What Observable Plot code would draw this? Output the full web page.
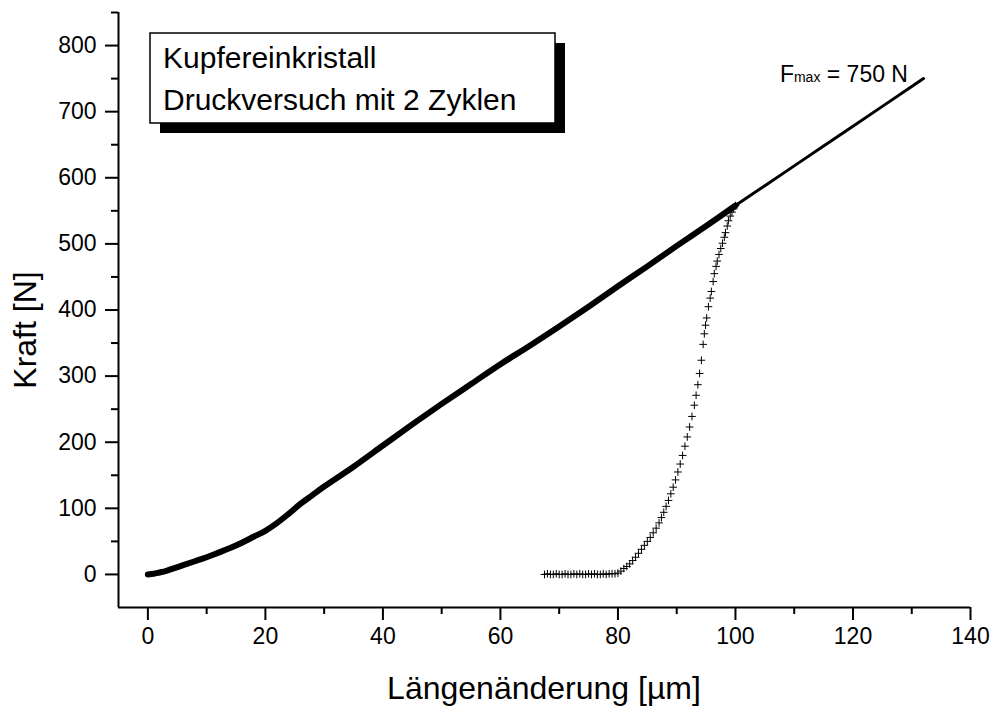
<!DOCTYPE html>
<html><head><meta charset="utf-8">
<script src="https://cdn.jsdelivr.net/npm/d3@7"></script>
<script src="https://cdn.jsdelivr.net/npm/@observablehq/plot@0.6"></script>
<style>
body{margin:0;background:#fff;}
#chart{width:995px;height:709px;}
</style>
</head><body><div id="chart"></div>
<script>
// First loading (both cycles overlapping), 0..100 µm
const loadX = [0,1,2,3,4,6,8,10,12,14,16,18,20,22,24,26,28,30,35,40,45,50,55,60,65,70,75,80,85,90,95,100];
const loadY = [0,1,3,5,8,14,20,26,33,40,48,57,66,78,92,107,120,133,163,195,227,258,288,318,346,375,405,436,466,497,527,558];
// Continued loading up to Fmax
const contX = [100,102,105,110,115,120,125,130,132];
const contY = [558,570,588,618,648,678,708,738,750];
// Unload / reload cycle (plus markers)
const cycX = [67.5,68,68.5,69,69.5,70,70.5,71,71.5,72,72.5,73,73.5,74,74.5,75,75.5,76,76.5,77,77.5,78,78.5,79,79.5,
  80,80.5,81,81.5,82,82.5,83,83.5,84,84.5,85,85.5,86,86.5,87,
  87.4,87.8,88.2,88.6,89,89.4,89.8,90.2,90.6,91,91.4,91.8,92.2,92.6,93,
  93.3,93.6,93.9,94.2,94.5,
  94.7,94.9,95.1,95.4,95.7,95.9,96.2,96.4,96.7,96.9,97.2,97.5,97.8,98.1,98.3,98.6,98.8,99.1,99.4,99.7,100];
const cycY = [0,1,0,0,1,0,0,1,0,0,1,0,1,0,0,1,0,1,0,0,1,0,1,1,1,
  2,5,9,12,16,21,26,32,38,44,50,56,63,70,78,
  86,94,103,112,122,132,143,155,167,180,194,208,223,239,256,
  271,287,304,324,348,
  364,377,388,405,418,428,443,455,466,474,484,493,501,510,517,527,535,542,548,553,558];
const xTicks = [0,20,40,60,80,100,120,140];
const xMinor = [10,30,50,70,90,110,130];
const yTicks = [0,100,200,300,400,500,600,700,800];
const yMinor = [50,150,250,350,450,550,650,750,850];
const xTitle = "Längenänderung [µm]";
const yTitle = "Kraft [N]";
const boxLines = ["Kupfereinkristall", "Druckversuch mit 2 Zyklen"];
const fmaxValue = 750;
const fmaxX = 132;

const toRows = (xs, ys) => xs.map((x, i) => ({x, y: ys[i]}));
const FONT = "'Liberation Sans', Arial, sans-serif";

const plot = Plot.plot({
  width: 995, height: 709,
  marginLeft: 118, marginRight: 25, marginTop: 12, marginBottom: 102,
  x: {domain: [-5, 140]},
  y: {domain: [-50, 850]},
  style: {fontFamily: FONT, color: "#000", background: "#fff", overflow: "visible"},
  marks: [
    Plot.axisX({ticks: xMinor, tickSize: 7, strokeWidth: 2, tickFormat: () => "", label: null}),
    Plot.axisX({ticks: xTicks, tickSize: 13, strokeWidth: 2, fontSize: 23, tickPadding: 7, label: null}),
    Plot.axisY({ticks: yMinor, tickSize: 7, strokeWidth: 2, tickFormat: () => "", label: null}),
    Plot.axisY({ticks: yTicks, tickSize: 13, strokeWidth: 2, fontSize: 23, tickPadding: 9, label: null}),
    Plot.ruleY([-50], {strokeWidth: 2}),
    Plot.ruleX([-5], {strokeWidth: 2}),
    Plot.line(toRows(loadX, loadY), {x: "x", y: "y", stroke: "#000", strokeWidth: 6, strokeLinecap: "round", curve: "catmull-rom"}),
    Plot.line(toRows(contX, contY), {x: "x", y: "y", stroke: "#000", strokeWidth: 3, strokeLinecap: "round"}),
    Plot.dot(toRows(cycX, cycY), {x: "x", y: "y", symbol: "plus", r: 2.6, stroke: "#000", strokeWidth: 1})
  ]
});

const svg = d3.select(plot);
const sx = plot.scale("x"), sy = plot.scale("y");

// Fmax annotation
const ft = svg.append("text")
  .attr("x", sx.apply(fmaxX) - 15).attr("y", sy.apply(fmaxValue) + 4)
  .attr("text-anchor", "end").attr("font-size", 23).attr("font-family", FONT).attr("fill", "#000");
ft.append("tspan").text("F");
ft.append("tspan").attr("font-size", 14).text("max");
ft.append("tspan").text(" = " + fmaxValue + " N");

// Text box with shadow
const bx = 150, by = 33, bw = 405, bh = 90;
svg.append("rect").attr("x", bx + 10).attr("y", by + 10).attr("width", bw).attr("height", bh).attr("fill", "#000");
svg.append("rect").attr("x", bx).attr("y", by).attr("width", bw).attr("height", bh)
  .attr("fill", "#fff").attr("stroke", "#000").attr("stroke-width", 1.5);
boxLines.forEach((t, i) => {
  svg.append("text").attr("x", bx + 13).attr("y", by + 35 + i * 42)
    .attr("text-anchor", "start")
    .attr("font-size", 30).attr("font-family", FONT).attr("fill", "#000").text(t);
});

// Axis titles
svg.append("text").attr("transform", "translate(25,330) rotate(-90)")
  .attr("text-anchor", "middle").attr("dominant-baseline", "central")
  .attr("font-size", 32).attr("font-family", FONT).attr("fill", "#000").text(yTitle);
svg.append("text").attr("x", 544).attr("y", 688)
  .attr("text-anchor", "middle").attr("dominant-baseline", "central")
  .attr("font-size", 32).attr("font-family", FONT).attr("fill", "#000").text(xTitle);

document.getElementById("chart").appendChild(plot);
</script>
</body></html>
